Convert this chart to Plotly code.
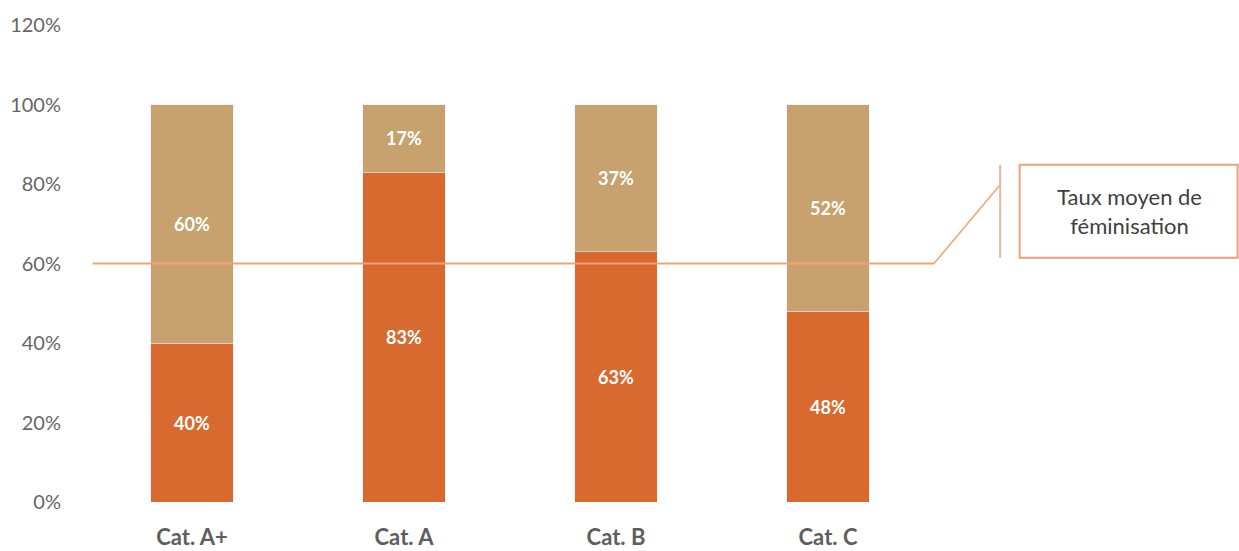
import plotly.graph_objects as go

categories = ["Cat. A+", "Cat. A", "Cat. B", "Cat. C"]
femmes = [40, 83, 63, 48]
hommes = [60, 17, 37, 52]
taux_moyen = 60
y_ticks = [0, 20, 40, 60, 80, 100, 120]

orange = "#D8692F"
tan = "#C8A26E"
line_col = "#F2A374"
y_max = 120

fig = go.Figure()
fig.add_trace(go.Bar(
    x=categories, y=femmes, marker_color=orange, width=0.39,
    text=[f"{v}%" for v in femmes], textposition="inside", insidetextanchor="middle",
    textfont=dict(color="white", size=18, family="Lato", weight="bold"),
    hoverinfo="skip",
))
fig.add_trace(go.Bar(
    x=categories, y=hommes, marker_color=tan, width=0.39,
    text=[f"{v}%" for v in hommes], textposition="inside", insidetextanchor="middle",
    textfont=dict(color="white", size=18, family="Lato", weight="bold"),
    hoverinfo="skip",
))

# Average feminisation line across the chart
fig.add_shape(type="line", xref="paper", yref="y", x0=0.008, x1=1.0,
              y0=taux_moyen, y1=taux_moyen, line=dict(color=line_col, width=2))
# Callout leader up to the label box
fig.add_shape(type="line", xref="paper", yref="paper", x0=1.0, x1=1.078,
              y0=taux_moyen / y_max, y1=0.665,
              line=dict(color=line_col, width=1.5))
fig.add_shape(type="line", xref="paper", yref="paper", x0=1.078, x1=1.078,
              y0=0.512, y1=0.707, line=dict(color="#E8B89A", width=2))
fig.add_shape(type="rect", xref="paper", yref="paper", x0=1.101, x1=1.358,
              y0=0.512, y1=0.707, line=dict(color="#E9A27A", width=2),
              fillcolor="white")
fig.add_annotation(xref="paper", yref="paper", x=1.23, y=0.61,
                   xanchor="center", yanchor="middle",
                   text="Taux moyen de<br>féminisation", showarrow=False,
                   font=dict(family="Lato", size=22, color="#3F3F3F"),
                   align="center")

fig.update_layout(
    barmode="stack",
    width=1239, height=551,
    margin=dict(l=86, r=305, t=25, b=49, autoexpand=False),
    paper_bgcolor="white", plot_bgcolor="white",
    showlegend=False,
    font=dict(family="Lato"),
)
fig.update_yaxes(
    range=[0, y_max], tickvals=y_ticks, ticktext=[f"{v}%" for v in y_ticks],
    showgrid=False, zeroline=False, showline=False, automargin=False,
    ticks="outside", ticklen=20, tickcolor="rgba(0,0,0,0)",
    tickfont=dict(size=20, color="#666666", family="Lato"),
)
fig.update_xaxes(
    showgrid=False, showline=False, automargin=False,
    ticks="outside", ticklen=16, tickcolor="rgba(0,0,0,0)",
    tickfont=dict(size=22, color="#5E5E5E", family="Lato", weight="bold"),
)

fig.write_html("out.html")
